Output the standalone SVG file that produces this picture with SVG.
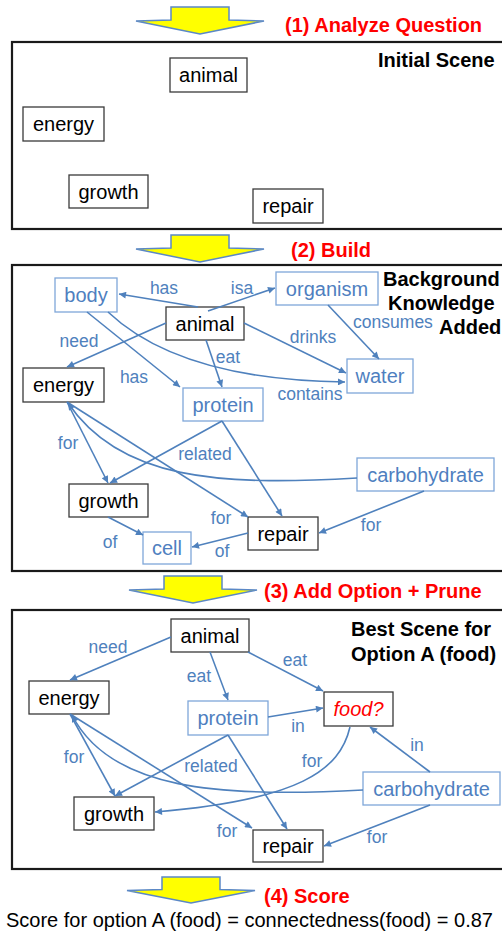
<svg xmlns="http://www.w3.org/2000/svg" width="502" height="931" viewBox="0 0 502 931">
<style>
.panel{fill:#fff;stroke:#1a1a1a;stroke-width:2.2}
.bn rect{fill:#fff;stroke:#3a3a3a;stroke-width:1.3}
.bl rect{fill:#fff;stroke:#7FA7D9;stroke-width:1.3}
.bn text{font-family:"Liberation Sans",Arial,sans-serif;font-size:20px;fill:#000;text-anchor:middle}
.bl text{font-family:"Liberation Sans",Arial,sans-serif;font-size:20px;fill:#4F7FC0;text-anchor:middle}
.title{font-family:"Liberation Sans",Arial,sans-serif;font-size:20px;font-weight:bold;fill:#000}
.step{font-family:"Liberation Sans",Arial,sans-serif;font-size:20px;font-weight:bold;fill:#FF0000}
.edges path{fill:none;stroke:#4F81BD;stroke-width:1.6;marker-end:url(#ah)}
.lbl{font-family:"Liberation Sans",Arial,sans-serif;font-size:17.5px;fill:#4F81BD;text-anchor:middle}
.yarrow{fill:#FFFF00;stroke:#5B88C6;stroke-width:1.5;stroke-linejoin:miter}
</style>
<defs>
<marker id="ah" viewBox="0 0 10 10" refX="10" refY="5" markerWidth="9" markerHeight="7" orient="auto" markerUnits="userSpaceOnUse">
<path d="M0,0 L10,5 L0,10 z" fill="#4F81BD"/>
</marker>
<path id="yarr" class="yarrow" d="M-29,0 H29 V13 L64,14 L0,27 L-64,14 L-29,13 Z"/>
</defs>
<rect width="502" height="931" fill="#fff"/>

<!-- step arrows -->
<g id="step1">
<use href="#yarr" transform="translate(200,7)"/>
<text class="step" x="285" y="32">(1) Analyze Question</text>
</g>
<g id="step2">
<use href="#yarr" transform="translate(200,235)"/>
<text class="step" x="291" y="257">(2) Build</text>
</g>
<g id="step3">
<use href="#yarr" transform="translate(193,576)"/>
<text class="step" x="264" y="598">(3) Add Option + Prune</text>
</g>
<g id="step4">
<use href="#yarr" transform="translate(191,877) scale(1,0.96)"/>
<text class="step" x="264" y="903">(4) Score</text>
</g>

<!-- panels -->
<rect class="panel" x="12" y="42" width="500" height="187"/>
<rect class="panel" x="12" y="265" width="500" height="306"/>
<rect class="panel" x="12" y="610" width="500" height="259"/>

<text class="title" x="378" y="67">Initial Scene</text>
<text class="title" x="383" y="286">Background</text>
<text class="title" x="388" y="310">Knowledge</text>
<text class="title" x="439" y="334">Added</text>
<text class="title" x="351" y="636">Best Scene for</text>
<text class="title" x="351" y="661">Option A (food)</text>

<!-- panel 1 nodes -->
<g id="p1-animal" class="bn"><rect x="170" y="58" width="77" height="34"/><text x="208.5" y="82">animal</text></g>
<g id="p1-energy" class="bn"><rect x="23" y="107" width="81" height="34"/><text x="63.5" y="131">energy</text></g>
<g id="p1-growth" class="bn"><rect x="69" y="175" width="79" height="33"/><text x="108.5" y="199">growth</text></g>
<g id="p1-repair" class="bn"><rect x="253" y="189" width="70" height="34"/><text x="288" y="213">repair</text></g>

<!-- panel 2 nodes -->
<g id="p2-body" class="bl"><rect x="55" y="278" width="62" height="34"/><text x="86" y="302">body</text></g>
<g id="p2-animal" class="bn"><rect x="166" y="307" width="78" height="33"/><text x="205" y="331">animal</text></g>
<g id="p2-organism" class="bl"><rect x="276" y="272" width="102" height="33"/><text x="327" y="296">organism</text></g>
<g id="p2-water" class="bl"><rect x="347" y="359" width="66" height="34"/><text x="380" y="383">water</text></g>
<g id="p2-energy" class="bn"><rect x="23" y="368" width="81" height="34"/><text x="63.5" y="392">energy</text></g>
<g id="p2-protein" class="bl"><rect x="183" y="388" width="80" height="33"/><text x="223" y="412">protein</text></g>
<g id="p2-growth" class="bn"><rect x="69" y="484" width="79" height="33"/><text x="108.5" y="508">growth</text></g>
<g id="p2-cell" class="bl"><rect x="143" y="532" width="48" height="32"/><text x="167" y="555">cell</text></g>
<g id="p2-repair" class="bn"><rect x="248" y="517" width="70" height="33"/><text x="283" y="541">repair</text></g>
<g id="p2-carbohydrate" class="bl"><rect x="357" y="458" width="137" height="33"/><text x="425.5" y="482">carbohydrate</text></g>

<!-- panel 3 nodes -->
<g id="p3-animal" class="bn"><rect x="171" y="619" width="78" height="33"/><text x="210" y="643">animal</text></g>
<g id="p3-energy" class="bn"><rect x="29" y="681" width="80" height="33"/><text x="69" y="705">energy</text></g>
<g id="p3-protein" class="bl"><rect x="188" y="701" width="80" height="34"/><text x="228" y="725">protein</text></g>
<g id="p3-food" class="bn"><rect x="324" y="692" width="69" height="34"/><text x="358.5" y="716" style="fill:#FF0000;font-style:italic">food?</text></g>
<g id="p3-carbohydrate" class="bl"><rect x="363" y="772" width="137" height="33"/><text x="431.5" y="796">carbohydrate</text></g>
<g id="p3-growth" class="bn"><rect x="74" y="797" width="80" height="33"/><text x="114" y="821">growth</text></g>
<g id="p3-repair" class="bn"><rect x="253" y="830" width="70" height="32"/><text x="288" y="853">repair</text></g>

<!-- connectors -->
<g class="edges" id="connectors">
<path d="M198,307 L119,294"/>
<path d="M208,311 L275,288"/>
<path d="M166,323 L67,367"/>
<path d="M206,340 L222,387"/>
<path d="M87,312 L180,387"/>
<path d="M108,312 Q180,380 345,382"/>
<path d="M244,323 L346,373"/>
<path d="M328,305 L379,359"/>
<path d="M67,402 L108,483"/>
<path d="M67,402 L248,517"/>
<path d="M357,478 C220,486 120,480 68,403"/>
<path d="M222,421 L110,483"/>
<path d="M222,421 L282,516"/>
<path d="M108,517 L143,535"/>
<path d="M248,533 L192,547"/>
<path d="M424,491 L319,533"/>

<path d="M171,637 L70,680"/>
<path d="M210,652 L228,700"/>
<path d="M248,652 L323,691"/>
<path d="M268,717 L323,708"/>
<path d="M430,772 L370,727"/>
<path d="M350,727 C340,770 300,800 155,812"/>
<path d="M70,714 L115,796"/>
<path d="M70,714 L252,828"/>
<path d="M363,790 C220,798 110,790 72,715"/>
<path d="M228,735 L115,796"/>
<path d="M228,735 L287,829"/>
<path d="M430,805 L324,846"/>
</g>

<g id="edge-labels">
<text class="lbl" x="164" y="294">has</text>
<text class="lbl" x="242" y="294">isa</text>
<text class="lbl" x="79" y="347">need</text>
<text class="lbl" x="228" y="363">eat</text>
<text class="lbl" x="134" y="383">has</text>
<text class="lbl" x="313" y="343">drinks</text>
<text class="lbl" x="393" y="328">consumes</text>
<text class="lbl" x="310" y="400">contains</text>
<text class="lbl" x="68" y="449">for</text>
<text class="lbl" x="205" y="460">related</text>
<text class="lbl" x="221" y="524">for</text>
<text class="lbl" x="110" y="548">of</text>
<text class="lbl" x="222" y="557">of</text>
<text class="lbl" x="371" y="531">for</text>

<text class="lbl" x="108" y="653">need</text>
<text class="lbl" x="199" y="682">eat</text>
<text class="lbl" x="295" y="666">eat</text>
<text class="lbl" x="298" y="732">in</text>
<text class="lbl" x="417" y="751">in</text>
<text class="lbl" x="312" y="767">for</text>
<text class="lbl" x="74" y="763">for</text>
<text class="lbl" x="211" y="772">related</text>
<text class="lbl" x="227" y="837">for</text>
<text class="lbl" x="377" y="843">for</text>
</g>

<text x="6" y="927" style="font-family:'Liberation Sans',Arial,sans-serif;font-size:20px;fill:#000">Score for option A (food) = connectedness(food) = 0.87</text>
</svg>
